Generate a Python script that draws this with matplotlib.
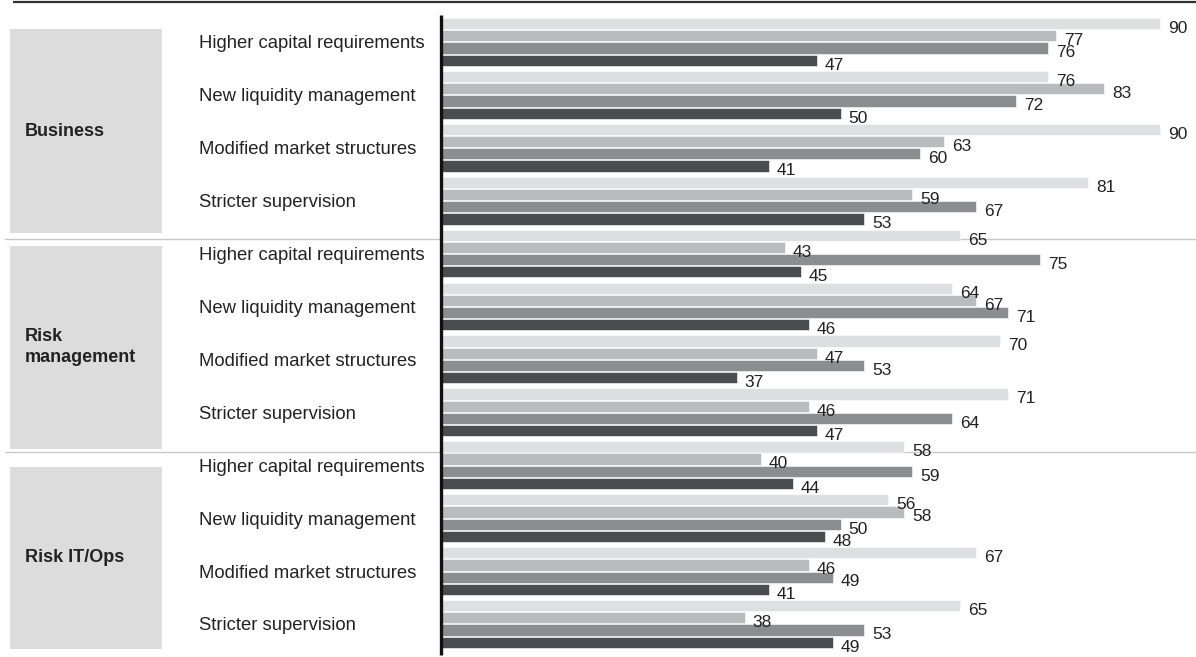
import matplotlib
matplotlib.use("Agg")
import matplotlib.pyplot as plt
from matplotlib.patches import Rectangle
import numpy as np

plt.rcParams['font.family'] = ['Liberation Sans', 'DejaVu Sans']

areas = ["Business", "Risk\nmanagement", "Risk IT/Ops"]
topics = ["Higher capital requirements", "New liquidity management",
          "Modified market structures", "Stricter supervision"]
# four series per topic (light -> dark)
series_1 = [90, 76, 90, 81, 65, 64, 70, 71, 58, 56, 67, 65]
series_2 = [77, 83, 63, 59, 43, 67, 47, 46, 40, 58, 46, 38]
series_3 = [76, 72, 60, 67, 75, 71, 53, 64, 59, 50, 49, 53]
series_4 = [47, 50, 41, 53, 45, 46, 37, 47, 44, 48, 41, 49]
colors = ["#dedfe0", "#babbbd", "#8c8d8f", "#4b4c4e"]

W, H = 1196, 657
fig = plt.figure(figsize=(W / 100, H / 100), dpi=100)

# background / annotation layer in pixel coordinates
bg = fig.add_axes([0, 0, 1, 1])
bg.set_xlim(0, W)
bg.set_ylim(H, 0)
bg.axis("off")

txt_col = "#222222"
period = 52.9
first_center = 42.0

# top rule
bg.plot([13, W], [2, 2], color="#333333", lw=1.6, solid_capstyle="butt")
# separators
for ysep in [239, 452]:
    bg.plot([5, W], [ysep, ysep], color="#c8c8c8", lw=1.0)
# area boxes
box_spans = [(29, 233), (246, 449), (467, 649)]
label_y = [132, 347, 558]
for (y0, y1), ly, name in zip(box_spans, label_y, areas):
    bg.add_patch(Rectangle((10, y0), 152, y1 - y0, facecolor="#dcdcdc", edgecolor="none"))
    bg.text(25, ly, name, fontsize=13, fontweight="bold", color=txt_col,
            ha="left", va="center", linespacing=1.3)

# topic labels
n = len(series_1)
for i in range(n):
    bg.text(199, first_center + i * period + 2, topics[i % 4], fontsize=13.3,
            color=txt_col, ha="left", va="center")

# bar axes
x0 = 441
px_per_unit = 7.99
ax = fig.add_axes([x0 / W, 0, (W - x0) / W, 1])
ax.patch.set_alpha(0)
ax.set_xlim(0, (W - x0) / px_per_unit)
top_units = first_center / period
ax.set_ylim(H / period - top_units, -top_units)
ax.axis("off")

slot = 12.2 / period
height = 11.2 / period
idx = np.arange(n)
all_series = [series_1, series_2, series_3, series_4]
for k, (vals, col) in enumerate(zip(all_series, colors)):
    ys = idx + (k - 1.5) * slot
    ax.barh(ys, vals, height=height, color=col, edgecolor="white", linewidth=0.4)
    for y, v in zip(ys, vals):
        ax.annotate(str(v), (v, y), xytext=(5.5, -3.5), textcoords="offset points",
                    ha="left", va="center", fontsize=12.5, color=txt_col)

# vertical axis line on top layer
top = fig.add_axes([0, 0, 1, 1])
top.patch.set_alpha(0)
top.set_xlim(0, W)
top.set_ylim(H, 0)
top.axis("off")
top.plot([x0, x0], [15, 655], color="#111111", lw=2.4, solid_capstyle="butt")

fig.savefig("out.png", dpi=100)
